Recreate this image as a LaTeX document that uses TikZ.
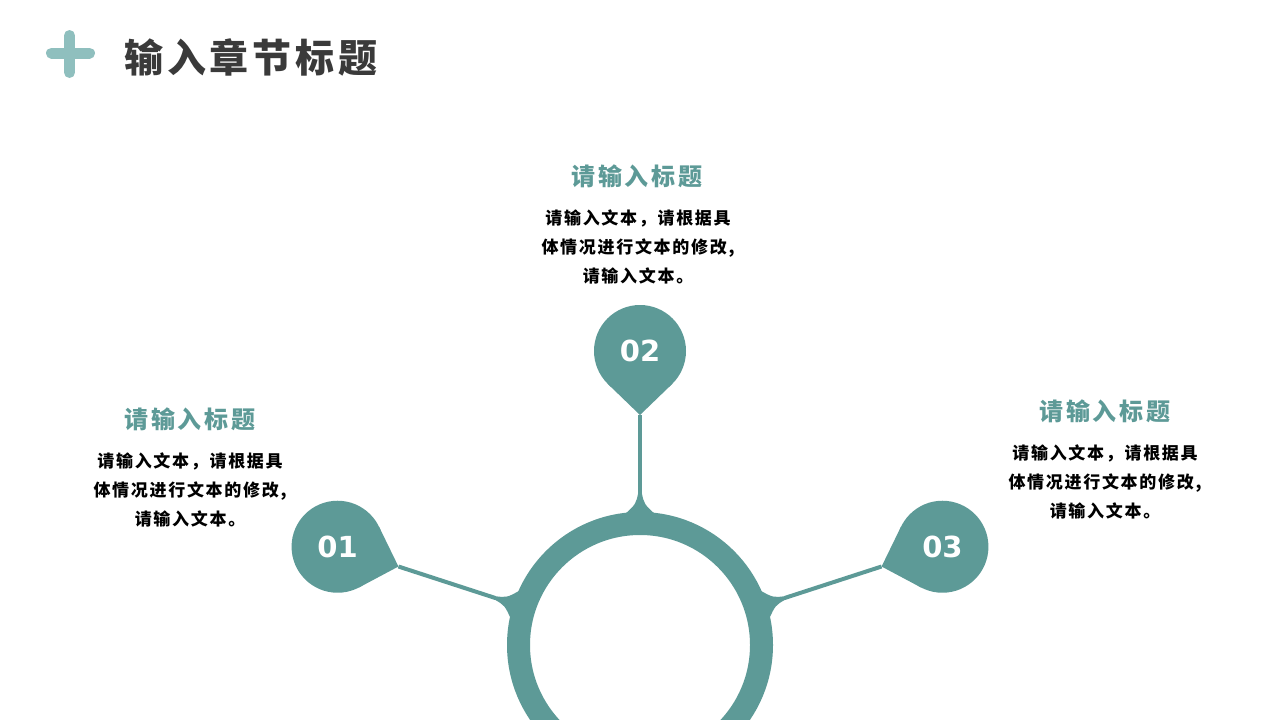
\documentclass[tikz,border=0pt]{standalone}
\usepackage{fontspec}
\newfontfamily\cjk{Noto Sans CJK SC}
\newfontfamily\digits{DejaVu Sans}
\definecolor{teal}{HTML}{5D9A97}
\definecolor{plusc}{HTML}{8FBFBE}
\definecolor{titlegray}{HTML}{3A3A3A}
\tikzset{
  ringline/.style={draw=teal, line width=23},
  conn/.style={draw=teal, line width=4},
  pinfill/.style={fill=teal},
  pinnode/.style={circle, fill=teal, minimum size=92, inner sep=0, text=white,
    font=\digits\bfseries\fontsize{29}{30}\selectfont},
  heading/.style={font=\cjk\bfseries\fontsize{24}{26}\selectfont\addfontfeature{LetterSpace=12}, text=teal},
  body/.style={font=\cjk\bfseries\fontsize{17}{29}\selectfont\addfontfeature{LetterSpace=10}, text=black, align=center},
}
\newcommand{\bodytext}{请输入文本，请根据具\\体情况进行文本的修改,\\请输入文本。}
\begin{document}
\begin{tikzpicture}[x=1pt,y=-1pt]
\useasboundingbox (0,0) rectangle (1280,720);
\fill[white] (0,0) rectangle (1280,720);
% plus sign
\draw[plusc, line width=11, line cap=round] (51.5,53) -- (89.5,53) (69.5,35.5) -- (69.5,72.5);
\node[anchor=west, font=\cjk\bfseries\fontsize{39}{40}\selectfont\addfontfeature{LetterSpace=10}, text=titlegray, inner sep=0] (title) at (124,57) {输入章节标题};
% ring
\coordinate (rc) at (640,645);
\draw[ringline] (rc) circle[radius=121.5];
% three spokes
\foreach \ang/\len/\n/\lab in {90/230/2/02, 162/254/1/01, 18/254/3/03}{
  \begin{scope}[shift={(rc)}, rotate=\ang]
    \fill[pinfill] (130,16) .. controls (141,4) .. (153,1.6) -- (153,-1.6) .. controls (141,-4) .. (130,-16) -- cycle;
    \coordinate (s\n) at (152,0);
    \coordinate (t\n) at (\len,0);
    \fill[pinfill] (\len,0) -- ({\len+64-33.1},32) -- ({\len+64-33.1},-32) -- cycle;
    \node[pinnode] (p\n) at ({\len+64},0) {\lab};
  \end{scope}
  \draw[conn] (s\n) -- (t\n);
}
% texts
\node[heading] (h2) at (637,176) {请输入标题};
\node[body] (b2) at (638,247) {\bodytext};
\node[heading] (h1) at (190,419) {请输入标题};
\node[body] (b1) at (190,490) {\bodytext};
\node[heading] (h3) at (1105,411) {请输入标题};
\node[body] (b3) at (1105,482) {\bodytext};
\end{tikzpicture}
\end{document}
